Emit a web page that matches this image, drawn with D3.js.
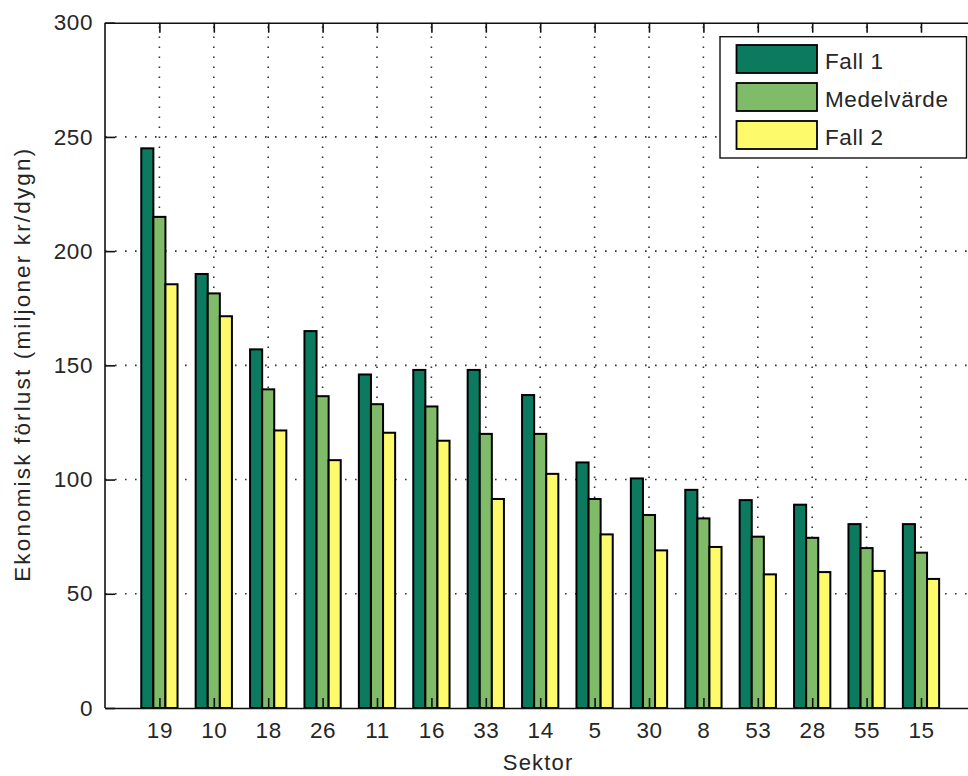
<!DOCTYPE html>
<html>
<head>
<meta charset="utf-8">
<script src="https://cdn.jsdelivr.net/npm/d3@7"></script>
<style>
  html, body { margin: 0; padding: 0; background: #fff; }
  svg { display: block; font-family: "Liberation Sans", Arial, sans-serif; }
</style>
</head>
<body>
<svg id="chart" width="968" height="776"></svg>
<script>
const categories = ["19","10","18","26","11","16","33","14","5","30","8","53","28","55","15"];
const seriesNames = ["Fall 1","Medelvärde","Fall 2"];
const fall1      = [245, 190, 157, 165, 146, 148, 148, 137, 107.5, 100.5, 95.5, 91, 89, 80.5, 80.5];
const medelvarde = [215, 181.5, 139.5, 136.5, 133, 132, 120, 120, 91.5, 84.5, 83, 75, 74.5, 70, 68];
const fall2      = [185.5, 171.5, 121.5, 108.5, 120.5, 117, 91.5, 102.5, 76, 69, 70.5, 58.5, 59.5, 60, 56.5];
const yTicks = [0, 50, 100, 150, 200, 250, 300];
const colors = ["#0b7a5e", "#80bb6a", "#fdfa6c"];
const xLabel = "Sektor";
const yLabel = "Ekonomisk förlust (miljoner kr/dygn)";

const series = [fall1, medelvarde, fall2];

const svg = d3.select("#chart");
const L = 105, R = 975.4, T = 22.7, B = 708;
const textColor = "#262626";

const x = d3.scalePoint().domain(categories).range([L, R]).padding(1);
const y = d3.scaleLinear().domain([0, 300]).range([B, T]);
const step = x.step();
const groupW = step * (3 / 4.5);
const bar = d3.scaleBand().domain(d3.range(series.length)).range([-groupW / 2, groupW / 2]).padding(0);

// grid
const grid = svg.append("g");
grid.selectAll("line.h").data(yTicks.filter(d => d > 0 && d < 300)).join("line")
  .attr("x1", L).attr("x2", R).attr("y1", d => y(d)).attr("y2", d => y(d))
  .attr("stroke", "#333").attr("stroke-width", 1.6).attr("stroke-dasharray", "1.6 8.4");
grid.selectAll("line.v").data(categories).join("line")
  .attr("x1", d => x(d)).attr("x2", d => x(d)).attr("y1", B).attr("y2", T)
  .attr("stroke", "#333").attr("stroke-width", 1.6).attr("stroke-dasharray", "1.6 8.4");

// bars
series.forEach((vals, s) => {
  svg.append("g").selectAll("rect").data(vals).join("rect")
    .attr("x", (d, i) => x(categories[i]) + bar(s))
    .attr("width", bar.bandwidth())
    .attr("y", d => y(d))
    .attr("height", d => B - y(d))
    .attr("fill", colors[s])
    .attr("stroke", "#000").attr("stroke-width", 2);
});

// axes (MATLAB style, ticks inside)
const tickLen = 10;
const axL = svg.append("g").attr("transform", `translate(${L},0)`)
  .call(d3.axisLeft(y).tickValues(yTicks).tickSize(-tickLen).tickPadding(12).tickFormat(d3.format("d")));
const axB = svg.append("g").attr("transform", `translate(0,${B})`)
  .call(d3.axisBottom(x).tickSize(-tickLen).tickPadding(14).tickSizeOuter(0));
const axT = svg.append("g").attr("transform", `translate(0,${T})`)
  .call(d3.axisTop(x).tickSize(-tickLen).tickFormat("").tickSizeOuter(0));
[axL, axB, axT].forEach(g => {
  g.select(".domain").attr("stroke", "#111").attr("stroke-width", 1.6);
  g.selectAll(".tick line").attr("stroke", "#111").attr("stroke-width", 1.6);
  g.selectAll("text").attr("fill", textColor).attr("font-size", 22.5).attr("font-family", "Liberation Sans, Arial, sans-serif").attr("letter-spacing", 0.6);
});
axL.select(".domain").attr("d", `M0,${B}V${T}`);
axB.selectAll(".tick text").attr("dy", "0.71em");

// axis labels
svg.append("text").attr("x", (L + R) / 2 - 2).attr("y", 770).attr("text-anchor", "middle")
  .attr("font-size", 22).attr("fill", textColor).attr("letter-spacing", 1.2).text(xLabel);
svg.append("text").attr("transform", `translate(30,${(T + B) / 2}) rotate(-90)`)
  .attr("text-anchor", "middle").attr("font-size", 22.5).attr("fill", textColor)
  .attr("textLength", 433).attr("lengthAdjust", "spacing").text(yLabel);

// legend
const lg = svg.append("g");
lg.append("rect").attr("x", 720).attr("y", 36.7).attr("width", 246.5).attr("height", 121.3)
  .attr("fill", "#fff").attr("stroke", "#111").attr("stroke-width", 1.4);
seriesNames.forEach((name, i) => {
  const cy = 59 + i * 38;
  lg.append("rect").attr("x", 736.5).attr("y", cy - 14).attr("width", 80.5).attr("height", 28)
    .attr("fill", colors[i]).attr("stroke", "#000").attr("stroke-width", 1.8);
  lg.append("text").attr("x", 825).attr("y", cy + 10).attr("font-size", 22.5).attr("fill", textColor)
    .attr("letter-spacing", 0.6).text(name);
});
</script>
</body>
</html>
